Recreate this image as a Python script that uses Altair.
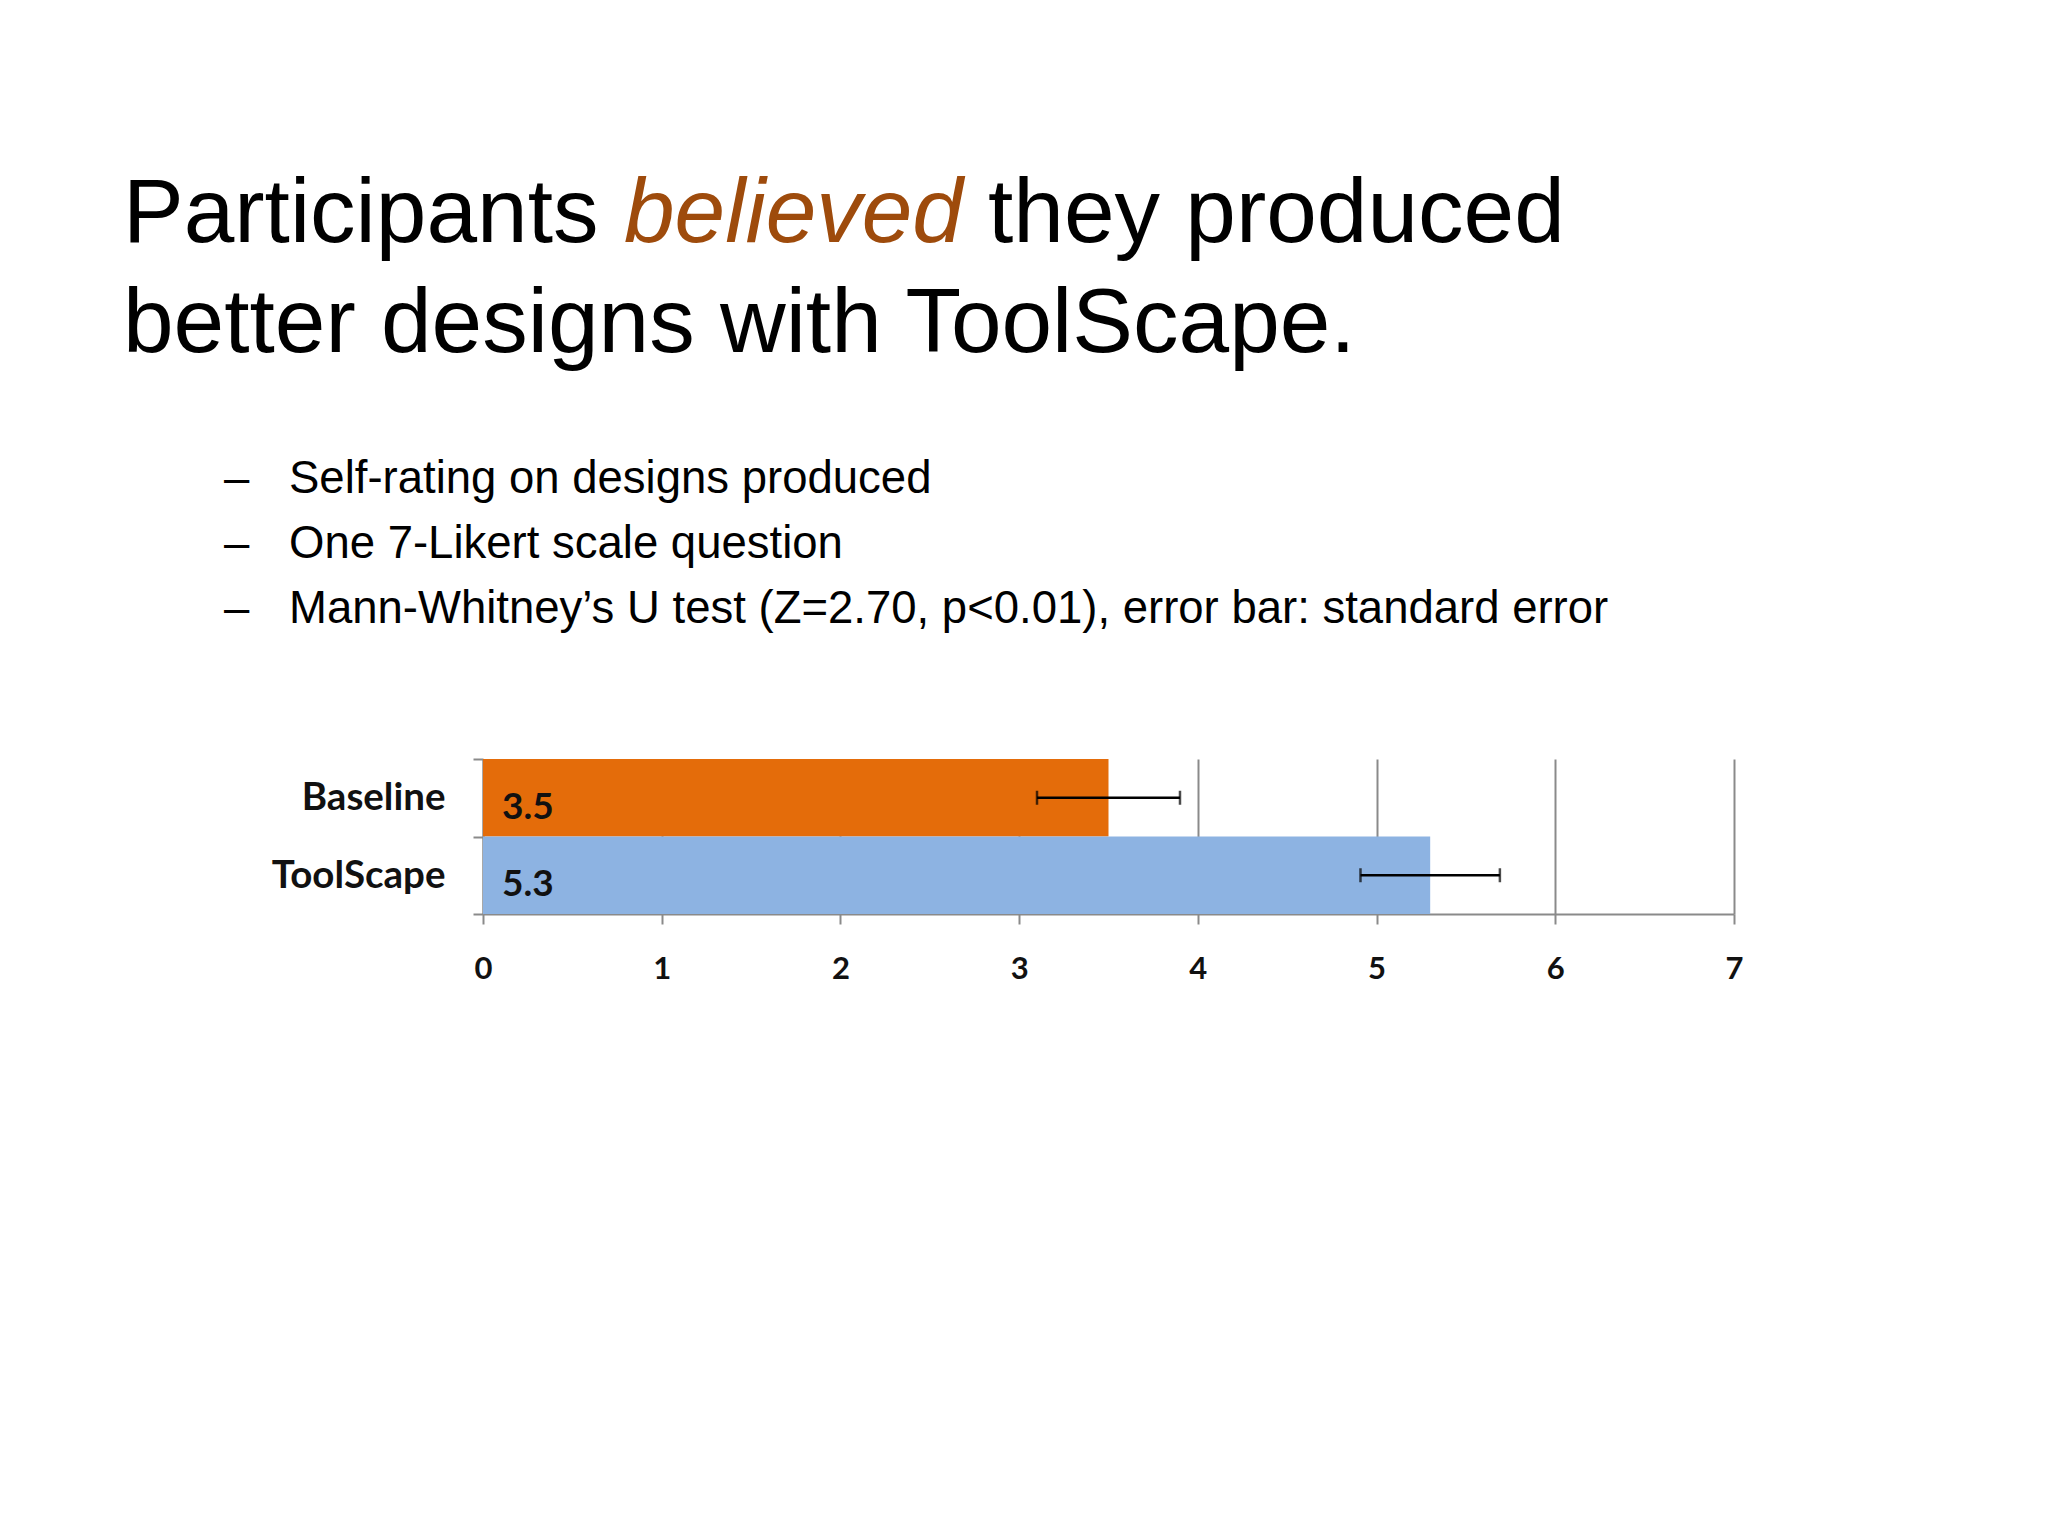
import altair as alt
import pandas as pd

# ---- data ----
categories = ["Baseline", "ToolScape"]
means = [3.5, 5.3]
err_lo = [3.1, 4.91]
err_hi = [3.9, 5.69]
value_labels = ["3.5", "5.3"]
bar_colors = ["#E46C0A", "#8DB3E2"]
x_ticks = [0, 1, 2, 3, 4, 5, 6, 7]

title_line1 = ["Participants ", "believed", " they produced"]
title_line2 = "better designs with ToolScape."
bullets = [
    "Self-rating on designs produced",
    "One 7-Likert scale question",
    "Mann-Whitney\u2019s U test (Z=2.70, p<0.01), error bar: standard error",
]

df = pd.DataFrame({
    "cat": categories,
    "mean": means,
    "lo": err_lo,
    "hi": err_hi,
    "lab": value_labels,
})

W, H = 1251, 155
GRAY = "#8A8A8A"

y_enc = alt.Y("cat:N", sort=categories, title=None,
              scale=alt.Scale(paddingInner=0, paddingOuter=0),
              axis=alt.Axis(tickBand="extent", tickSize=10, tickColor=GRAY,
                            tickWidth=2, domainColor=GRAY, domainWidth=2,
                            labelFont="Lato", labelFontWeight="bold",
                            labelFontSize=38.5, labelColor="#111111",
                            labelPadding=28, grid=False))

x_scale = alt.Scale(domain=[0, 7], nice=False)

bars = alt.Chart(df).mark_bar(cornerRadius=0).encode(
    x=alt.X("mean:Q", scale=x_scale, title=None,
            axis=alt.Axis(values=x_ticks, format="d", tickSize=10, tickColor=GRAY,
                          tickWidth=2, domainColor=GRAY, domainWidth=2,
                          grid=True, gridColor=GRAY, gridWidth=2,
                          labelFont="Lato", labelFontWeight="bold",
                          labelFontSize=31, labelColor="#111111",
                          labelBaseline="middle", labelPadding=45,
                          labelFlush=False)),
    y=y_enc,
    color=alt.Color("cat:N", scale=alt.Scale(domain=categories, range=bar_colors),
                    legend=None),
)

err = alt.Chart(df).mark_rule(color="black", strokeWidth=2.5).encode(
    x=alt.X("lo:Q", scale=x_scale), x2="hi:Q", y=alt.Y("cat:N", sort=categories))

cap_lo = alt.Chart(df).mark_tick(color="black", thickness=2.5, size=14,
                                 orient="vertical").encode(
    x=alt.X("lo:Q", scale=x_scale), y=alt.Y("cat:N", sort=categories))
cap_hi = alt.Chart(df).mark_tick(color="black", thickness=2.5, size=14,
                                 orient="vertical").encode(
    x=alt.X("hi:Q", scale=x_scale), y=alt.Y("cat:N", sort=categories))

vals = alt.Chart(df).mark_text(align="left", baseline="middle", dx=19, dy=10,
                               font="Lato", fontWeight="bold", fontSize=37,
                               color="#111111").encode(
    x=alt.datum(0), y=alt.Y("cat:N", sort=categories), text="lab:N")

one = pd.DataFrame({"k": [0]})

def txt(s, x, y, size, color="black", style="normal", align="left"):
    return alt.Chart(one).mark_text(
        text=s, align=align, baseline="alphabetic", font="Liberation Sans",
        fontSize=size, fontStyle=style, color=color,
    ).encode(x=alt.value(x), y=alt.value(y))

TS = 91
t1 = txt(title_line1[0], -360, -517, TS)
t2 = txt(title_line1[1], 141, -517, TS, color="#9E4B0C", style="italic")
t3 = txt(title_line1[2].strip(), 505, -517, TS)
t4 = txt(title_line2, -360, -407, TS)

BS = 45.5
bl = []
for i, b in enumerate(bullets):
    yb = -266 + 65 * i
    bl.append(txt("\u2013", -259, yb, BS))
    bl.append(txt(b, -194, yb, BS))

chart = alt.layer(bars, err, cap_lo, cap_hi, vals, t1, t2, t3, t4, *bl).properties(
    width=W, height=H,
    autosize=alt.AutoSizeParams(type="none"),
    padding={"left": 475, "top": 751, "right": 306, "bottom": 614},
    background="white",
).configure_view(stroke=None)

chart.save("out.html", embed_options={"renderer": "svg", "actions": False})
